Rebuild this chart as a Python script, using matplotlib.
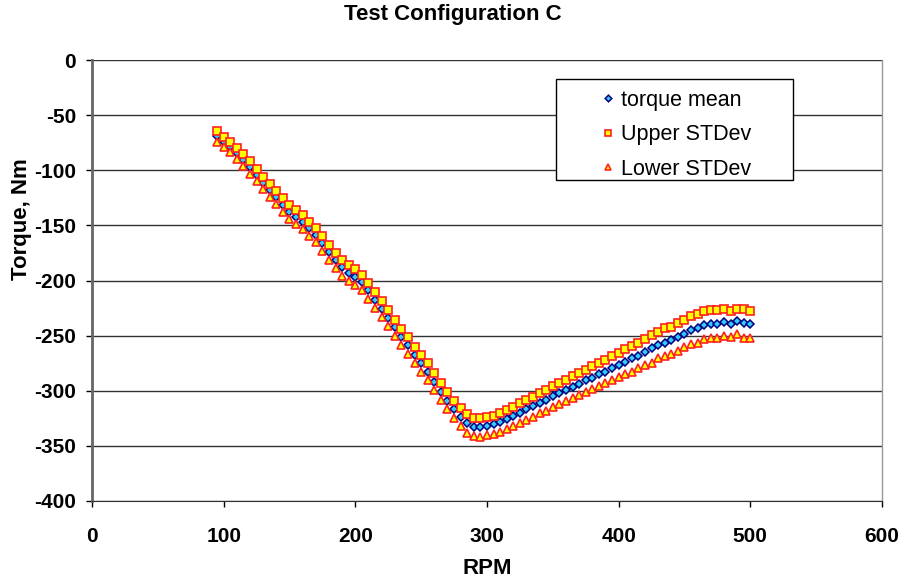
import numpy as np
import matplotlib
matplotlib.use("Agg")
import matplotlib.pyplot as plt
from matplotlib.patches import Rectangle

plt.rcParams["font.family"] = ["Liberation Sans", "DejaVu Sans"]
plt.rcParams["axes.unicode_minus"] = False

RPM = list(range(95, 505, 5))

TORQUE_MEAN = [
    -69, -74, -78.6, -84.7, -90.7, -97.3, -104.3, -111.3, -118, -124.3,
    -131.5, -137.6, -142, -146.6, -152.7, -158.7, -166.3, -173.8, -181.4, -187.8,
    -192.8, -196.8, -201.8, -209, -217.7, -226, -234, -242.5, -251, -258.8,
    -267.6, -275, -282.7, -291.7, -300.8, -309, -317, -324, -329.5, -332.5,
    -333, -332, -330.5, -328.5, -326, -323, -320, -317, -314, -311,
    -308, -305, -302, -299, -296.5, -293.5, -290.5, -288, -285, -282.7,
    -279, -276.6, -273.6, -270.6, -268.5, -265, -261.5, -258.5, -256.4, -254,
    -251.5, -248.5, -245, -243.4, -240.4, -239.5, -239.5, -237.6, -239.5, -236.8,
    -238.2, -239.7,
]

UPPER_STD = [
    -64.5, -69.5, -74, -80, -85.5, -92, -99, -106, -112.5, -118.5,
    -125.5, -131.5, -136, -140.5, -146.5, -152.5, -160, -167.5, -175, -181,
    -186, -190, -195, -202, -210.5, -219, -227, -235.5, -244, -251.5,
    -260, -267.5, -275, -284, -293, -301, -309, -316, -321.5, -324.5,
    -325, -324, -322.5, -320, -317.5, -314.5, -311.5, -308.5, -305.5, -302,
    -299, -296, -293, -290, -287, -284, -281, -277.8, -274.5, -271.7,
    -268.5, -265.5, -262.5, -259.4, -256.4, -253.4, -249.8, -246.5, -243.4, -242.5,
    -238.9, -236, -232.3, -230.4, -227.4, -226.8, -226.8, -225.9, -227.4, -225.9,
    -225.9, -227.7,
]

LOWER_STD = [
    -74, -79, -83.5, -90, -96, -103, -110, -117, -124, -130.5,
    -137.5, -144, -148.5, -153, -159.5, -165.5, -173.5, -181, -189, -195.5,
    -200.5, -204, -209, -216.5, -225, -233.5, -241.5, -250, -258.5, -266.5,
    -275, -283, -290.5, -299.5, -308.5, -317, -325, -332, -338, -341,
    -341.5, -340.5, -339, -337.5, -335, -332, -329, -326.5, -323.5, -320.5,
    -318, -315, -312, -309, -306.5, -304, -301.5, -298.7, -295.7, -293.3,
    -290.2, -287.8, -284.8, -282.7, -279.6, -276.6, -274.5, -270.6, -268.5, -266.7,
    -264, -260.6, -257.6, -256.4, -253.4, -252.5, -252.5, -250.3, -251.5, -248.5,
    -252.5, -252.5,
]

X_TICKS = [0, 100, 200, 300, 400, 500, 600]
Y_TICKS = [0, -50, -100, -150, -200, -250, -300, -350, -400]

fig = plt.figure(figsize=(9.06, 5.85), dpi=100)
ax = fig.add_axes([0.1015, 0.1436, 0.872, 0.7538])

ax.plot(RPM, TORQUE_MEAN, linestyle="none", marker="D", markersize=4.2,
        markerfacecolor="#33ccff", markeredgecolor="#000080", markeredgewidth=1.1,
        label="torque mean", zorder=3)
ax.plot(RPM, UPPER_STD, linestyle="none", marker="s", markersize=5.4,
        markerfacecolor="#ffff00", markeredgecolor="#ff2020", markeredgewidth=1.2,
        label="Upper STDev", zorder=3)
ax.plot(RPM, LOWER_STD, linestyle="none", marker="^", markersize=5.5,
        markerfacecolor="#ffff00", markeredgecolor="#ff2020", markeredgewidth=1.2,
        label="Lower STDev", zorder=3)

ax.set_xlim(0, 600)
ax.set_ylim(-400, 0)
ax.set_xticks(X_TICKS)
ax.set_yticks(Y_TICKS)
ax.tick_params(axis="both", labelsize=15, direction="out", length=4.5, width=1, colors="black")
ax.tick_params(axis="x", pad=14)
ax.tick_params(axis="y", pad=7)
for lab in ax.get_xticklabels() + ax.get_yticklabels():
    lab.set_fontweight("bold")

ax.yaxis.grid(True, color="#333333", linewidth=1)
ax.set_axisbelow(True)

ax.spines["top"].set_visible(False)
ax.spines["left"].set_color("#666666")
ax.spines["left"].set_linewidth(2)
ax.spines["bottom"].set_color("#333333")
ax.spines["right"].set_color("#999999")
ax.spines["right"].set_linewidth(1)

ax.set_xlabel("RPM", fontsize=16, fontweight="bold", labelpad=9)
ax.set_ylabel("Torque, Nm", fontsize=16, fontweight="bold", va="center")
ax.yaxis.set_label_coords(-0.0886, 0.64)
fig.text(0.5, 0.976, "Test Configuration C", fontsize=16, fontweight="bold",
         ha="center", va="center")

# legend box drawn separately, Excel style with wide side padding
ax.add_patch(Rectangle((0.587, 0.729), 0.300, 0.228, transform=ax.transAxes,
                       facecolor="white", edgecolor="black", linewidth=1, zorder=4))
leg = ax.legend(loc="upper left", bbox_to_anchor=(0.6175, 0.977), fontsize=15.5,
                frameon=False, markerscale=0.8, handletextpad=0.2, borderpad=0.4,
                labelspacing=0.63, handlelength=0.8)
leg.set_zorder(5)

fig.savefig("out.png", dpi=100)
